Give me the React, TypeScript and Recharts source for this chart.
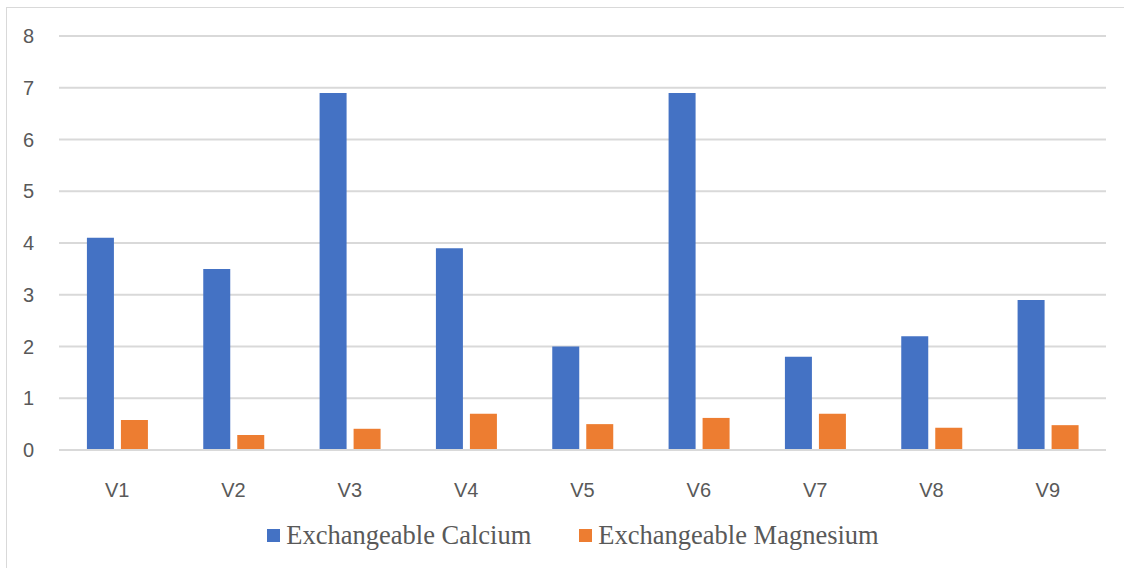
import { BarChart, Bar, XAxis, YAxis, CartesianGrid, Legend } from "recharts";

const categories = ["V1", "V2", "V3", "V4", "V5", "V6", "V7", "V8", "V9"];
const calcium = [4.1, 3.5, 6.9, 3.9, 2.0, 6.9, 1.8, 2.2, 2.9];
const magnesium = [0.58, 0.29, 0.41, 0.7, 0.5, 0.62, 0.7, 0.43, 0.48];
const yTicks = [0, 1, 2, 3, 4, 5, 6, 7, 8];

const BLUE = "#4472C4";
const ORANGE = "#ED7D31";
const GRID = "#D9D9D9";
const TEXT = "#595959";

const data = categories.map((name, i) => ({
  name,
  calcium: calcium[i],
  magnesium: magnesium[i],
}));

const legendItems = [
  { label: "Exchangeable Calcium", color: BLUE },
  { label: "Exchangeable Magnesium", color: ORANGE },
];

function ChartLegend() {
  return (
    <div style={{ display: "flex", justifyContent: "center", alignItems: "center", height: 30, paddingLeft: 40 }}>
      {legendItems.map((item, i) => (
        <div key={item.label} style={{ display: "flex", alignItems: "center", marginLeft: i === 0 ? 0 : 48 }}>
          <span style={{ width: 13, height: 13, background: item.color, marginRight: 6, display: "inline-block" }} />
          <span style={{ fontFamily: "'Liberation Serif', serif", fontSize: 26.5, color: TEXT, lineHeight: "30px" }}>
            {item.label}
          </span>
        </div>
      ))}
    </div>
  );
}

export default function App() {
  return (
    <div style={{ position: "absolute", left: 0, top: 0, width: 1124, height: 568, background: "#fff" }}>
      <div
        style={{
          position: "absolute",
          left: 6,
          top: 7,
          width: 1124,
          height: 568,
          borderLeft: `1px solid ${GRID}`,
          borderTop: `1px solid ${GRID}`,
        }}
      />
      <BarChart
        width={1124}
        height={568}
        data={data}
        margin={{ top: 36, right: 18, left: 0, bottom: 18 }}
        barCategoryGap="24%"
        barGap={7}
      >
        <CartesianGrid vertical={false} stroke={GRID} strokeWidth={2} />
        <XAxis
          dataKey="name"
          height={70}
          axisLine={{ stroke: GRID, strokeWidth: 2 }}
          tickLine={false}
          tickMargin={27}
          tick={{ fill: TEXT, fontSize: 20, fontFamily: "'Liberation Sans', sans-serif" }}
        />
        <YAxis
          width={59}
          domain={[0, 8]}
          ticks={yTicks}
          axisLine={false}
          tickLine={false}
          tickMargin={19}
          tick={{ fill: TEXT, fontSize: 20, fontFamily: "'Liberation Sans', sans-serif" }}
        />
        <Legend verticalAlign="bottom" height={30} content={() => <ChartLegend />} />
        <Bar dataKey="calcium" name="Exchangeable Calcium" fill={BLUE} isAnimationActive={false} />
        <Bar dataKey="magnesium" name="Exchangeable Magnesium" fill={ORANGE} isAnimationActive={false} />
      </BarChart>
    </div>
  );
}
